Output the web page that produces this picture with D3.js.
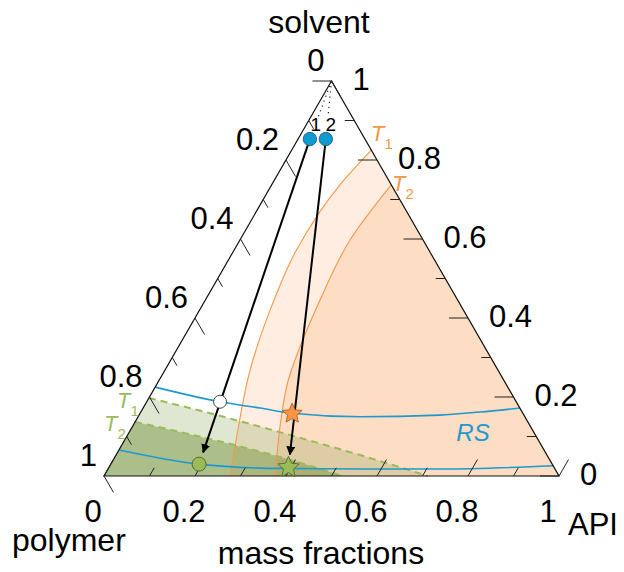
<!DOCTYPE html>
<html><head><meta charset="utf-8">
<script src="https://cdn.jsdelivr.net/npm/d3@7"></script>
<style>
body{margin:0;background:#fff}
svg{display:block}
text{font-family:"Liberation Sans",Arial,Helvetica,sans-serif}
</style>
</head><body>
<svg id="chart" width="624" height="572"></svg>
<script>
// ---- data: points are [API, solvent] mass fractions (polymer = 1 - API - solvent)
const tickValues = [0,0.1,0.2,0.3,0.4,0.5,0.6,0.7,0.8,0.9,1];
const labelValues = [0,0.2,0.4,0.6,0.8,1];
const labelTexts = ["0","0.2","0.4","0.6","0.8","1"];
const vertexTitles = ["solvent","polymer","API"];
const axisTitle = "mass fractions";

const startPoints = [[0.026,0.853],[0.061,0.853]];
const startLabels = ["1","2"];
const midPoints = [[0.161,0.188],[0.334,0.159]];      // white circle, orange star
const endPoints = [[0.194,0.030],[0.394,0.023]];      // green circle, green star

const rsUpper = [[0,0.225],[0.161,0.188],[0.257,0.172],[0.334,0.159],[0.488,0.150],[0.661,0.154],[0.745,0.162],[0.828,0.172]];
const rsLower = [[0,0.066],[0.194,0.030],[0.333,0.020],[0.394,0.019],[0.554,0.0177],[0.730,0.0177],[0.974,0.026]];

const greenT1 = [[0,0.1975],[0.130,0.165],[0.331,0.111],[0.536,0.053],[0.712,0]];
const greenT2 = [[0,0.137],[0.135,0.106],[0.363,0.048],[0.525,0]];

const orangeT1 = [[0.175,0.825],[0.150,0.737],[0.137,0.572],[0.155,0.420],[0.187,0.268],[0.236,0.1165],[0.278,0]];
const orangeT2 = [[0.263,0.737],[0.242,0.597],[0.252,0.4456],[0.273,0.2937],[0.2835,0.243],[0.318,0.1418],[0.376,0]];

// ---- scales
const svg = d3.select("#chart");
const X = d3.scaleLinear().domain([0,1]).range([104,559]);   // applied to API + solvent/2
const Y = d3.scaleLinear().domain([0,1]).range([476,81]);    // solvent
const px = d => [X(d[0] + d[1]/2), Y(d[1])];

const C = {
  orange:"#f79646", green:"#9bbb59", olive:"#76923c", blue:"#1b9ad0",
  dot:"#0d9bd0"
};

const lineX = d3.line().x(d=>px(d)[0]).y(d=>px(d)[1]).curve(d3.curveMonotoneX);
const lineY = d3.line().x(d=>px(d)[0]).y(d=>px(d)[1]).curve(d3.curveMonotoneY);
const poly = pts => "M" + pts.map(d=>px(d).join(",")).join("L") + "Z";

function regionPath(gen, curve, corner){
  return gen(curve) + "L" + px(corner).join(",") + "Z";
}
// orange regions (right of curves)
svg.append("path").attr("d", regionPath(lineY, orangeT1,[1,0])).attr("fill",C.orange).attr("fill-opacity",0.17);
svg.append("path").attr("d", regionPath(lineY, orangeT2,[1,0])).attr("fill",C.orange).attr("fill-opacity",0.18);
// green regions (below dashed lines)
svg.append("path").attr("d", regionPath(lineX, greenT1,[0,0])).attr("fill",C.olive).attr("fill-opacity",0.23);
svg.append("path").attr("d", regionPath(lineX, greenT2,[0,0])).attr("fill",C.olive).attr("fill-opacity",0.48);

// orange curves
[orangeT1, orangeT2].forEach(c=>{
  svg.append("path").attr("d", lineY(c)).attr("fill","none").attr("stroke",C.orange).attr("stroke-width",1.1);
});
// green dashed
[greenT1, greenT2].forEach(c=>{
  svg.append("path").attr("d", lineX(c)).attr("fill","none").attr("stroke",C.green)
    .attr("stroke-width",2).attr("stroke-dasharray","7,5");
});
// blue RS curves
[rsUpper, rsLower].forEach(c=>{
  svg.append("path").attr("d", lineX(c)).attr("fill","none").attr("stroke",C.blue).attr("stroke-width",1.6);
});

// triangle
svg.append("path").attr("d", poly([[0,1],[0,0],[1,0]])).attr("fill","none").attr("stroke","#111").attr("stroke-width",1.2);

// ticks
const tickLen = v => (Math.round(v*10) % 2 === 0) ? 19 : 9.5;
const c60 = Math.cos(Math.PI/3), s60 = Math.sin(Math.PI/3);
const tg = svg.append("g").attr("stroke","#222").attr("stroke-width",1);
tickValues.forEach(v=>{
  const L = tickLen(v);
  const b = px([v,0]);
  tg.append("line").attr("x1",b[0]).attr("y1",b[1]).attr("x2",b[0]+L*c60).attr("y2",b[1]-L*s60);
  const l = px([0,1-v]);
  tg.append("line").attr("x1",l[0]).attr("y1",l[1]).attr("x2",l[0]+L*c60).attr("y2",l[1]+L*s60);
  const r = px([1-v,v]);
  tg.append("line").attr("x1",r[0]).attr("y1",r[1]).attr("x2",r[0]-L).attr("y2",r[1]);
});

// tick labels
const fs = 31;
const lg = svg.append("g").attr("font-size",fs).attr("fill","#000");
labelValues.forEach((v,i)=>{
  const b = px([v,0]);
  lg.append("text").attr("x",b[0]-11).attr("y",511).attr("text-anchor","middle").attr("dominant-baseline","central").text(labelTexts[i]);
  const l = px([0,1-v]);
  lg.append("text").attr("x",l[0]-7).attr("y",l[1]-21).attr("text-anchor","end").attr("dominant-baseline","central").text(labelTexts[i]);
  const r = px([1-v,v]);
  lg.append("text").attr("x",r[0]+21).attr("y",r[1]-1.5).attr("text-anchor","start").attr("dominant-baseline","central").text(labelTexts[i]);
});

// titles
const tt = svg.append("g").attr("font-size",32).attr("fill","#000");
tt.append("text").attr("x",319).attr("y",33).attr("text-anchor","middle").text(vertexTitles[0]);
tt.append("text").attr("x",12).attr("y",551).attr("text-anchor","start").text(vertexTitles[1]);
tt.append("text").attr("x",568).attr("y",535).attr("text-anchor","start").attr("font-size",31).text(vertexTitles[2]);
tt.append("text").attr("x",321).attr("y",564).attr("text-anchor","middle").text(axisTitle);

// dotted lines from apex toward start points
startPoints.forEach(d=>{
  const a = px([0,1]), b = px(d);
  svg.append("line").attr("x1",a[0]).attr("y1",a[1]).attr("x2",a[0]+(b[0]-a[0])*0.62).attr("y2",a[1]+(b[1]-a[1])*0.62)
    .attr("stroke","#222").attr("stroke-width",1.2).attr("stroke-dasharray","1.2,4");
});

// arrows
svg.append("defs").append("marker").attr("id","ah").attr("viewBox","0 0 10 10").attr("refX",9).attr("refY",5)
  .attr("markerWidth",9).attr("markerHeight",9).attr("markerUnits","userSpaceOnUse").attr("orient","auto")
  .append("path").attr("d","M0,0L10,5L0,10Z").attr("fill","#000");
startPoints.forEach((d,i)=>{
  const a = px(d), b = px(endPoints[i]);
  const dx=b[0]-a[0], dy=b[1]-a[1], len=Math.hypot(dx,dy);
  const cut = 12.5;
  svg.append("line").attr("x1",a[0]).attr("y1",a[1]).attr("x2",b[0]-dx/len*cut).attr("y2",b[1]-dy/len*cut)
    .attr("stroke","#000").attr("stroke-width",2).attr("marker-end","url(#ah)");
});

// star symbol (5 points, inner ratio 0.47)
const star5 = {draw(ctx, size){
  const R = Math.sqrt(size), r = R*0.47;
  for(let i=0;i<10;i++){
    const ang = -Math.PI/2 + i*Math.PI/5, rad = i%2 ? r : R;
    const x = rad*Math.cos(ang), y = rad*Math.sin(ang);
    i ? ctx.lineTo(x,y) : ctx.moveTo(x,y);
  }
  ctx.closePath();
}};

// markers
startPoints.forEach((d,i)=>{
  const p = px(d);
  svg.append("circle").attr("cx",p[0]).attr("cy",p[1]).attr("r",6.7).attr("fill",C.dot).attr("stroke","#1f4e79").attr("stroke-width",0.8);
  svg.append("text").attr("x",p[0]+(i===0?6:5)).attr("y",p[1]-8).attr("font-size",19).attr("text-anchor","middle").text(startLabels[i]);
});
{
  const w = px(midPoints[0]);
  svg.append("circle").attr("cx",w[0]).attr("cy",w[1]).attr("r",6.5).attr("fill","#fff").attr("stroke","#333").attr("stroke-width",0.9);
  const s = px(midPoints[1]);
  svg.append("path").attr("d", d3.symbol(star5, 110)()).attr("transform",`translate(${s[0]},${s[1]+0.5})`)
    .attr("fill",C.orange).attr("stroke","#9a5a1c").attr("stroke-width",0.8);
  const g = px(endPoints[0]);
  svg.append("circle").attr("cx",g[0]).attr("cy",g[1]).attr("r",7).attr("fill",C.green).attr("stroke","#4f6228").attr("stroke-width",0.9);
  const gs = px(endPoints[1]);
  svg.append("path").attr("d", d3.symbol(star5, 125)()).attr("transform",`translate(${gs[0]},${gs[1]+0.5})`)
    .attr("fill",C.green).attr("stroke","#4f6228").attr("stroke-width",0.8);
}

// series labels
function tLabel(x,y,sub,color){
  const t = svg.append("text").attr("x",x).attr("y",y).attr("fill",color).attr("font-size",22).attr("font-style","italic");
  t.append("tspan").text("T");
  t.append("tspan").attr("font-size",15).attr("font-style","normal").attr("dy",8).text(sub);
}
tLabel(371,141,"1",C.orange);
tLabel(392,191,"2",C.orange);
tLabel(117,408,"1",C.green);
tLabel(104,431,"2",C.green);
svg.append("text").attr("x",473).attr("y",432).attr("dominant-baseline","central").attr("text-anchor","middle")
  .attr("font-size",24).attr("font-style","italic").attr("fill",C.blue).text("RS");
</script>
</body></html>
